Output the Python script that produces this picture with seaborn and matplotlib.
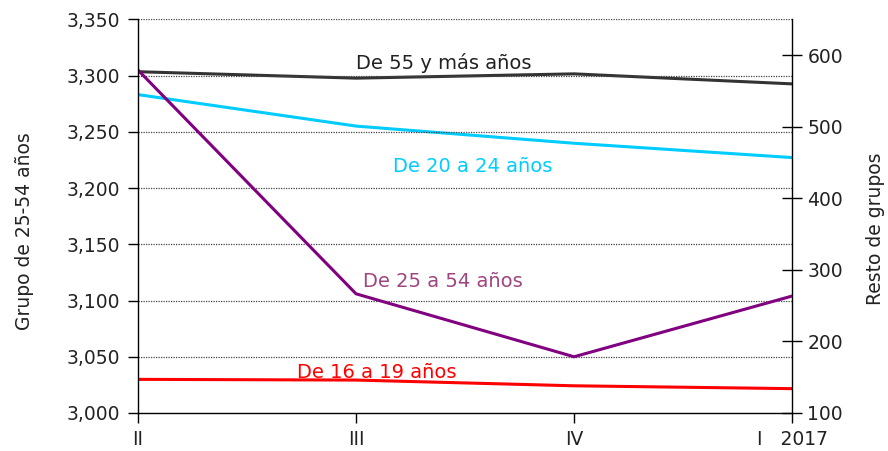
import matplotlib
matplotlib.use("Agg")
import matplotlib.pyplot as plt
import seaborn as sns
import pandas as pd

sns.set_theme(style="white")
plt.rcParams['font.family'] = ['DejaVu Sans']

categories = ["II", "III", "IV", "I   2017"]
grupo_25_54 = [3305, 3106, 3050, 3104]
de_55_mas = [577, 568, 574, 560]
de_20_24 = [545, 501, 477, 457]
de_16_19 = [147, 146, 138, 134]

df_left = pd.DataFrame({"x": range(len(categories)), "v": grupo_25_54})
df_right = pd.DataFrame({"x": list(range(len(categories))) * 3,
                         "v": de_55_mas + de_20_24 + de_16_19,
                         "s": ["55"] * 4 + ["20"] * 4 + ["16"] * 4})

fig = plt.figure(figsize=(8.88, 4.51), dpi=100)
ax = fig.add_axes([0.1554, 0.0843, 0.7366, 0.8725])
ax2 = ax.twinx()

ax.set_ylim(3000, 3350)
ax2.set_ylim(100, 650)
ax.set_xlim(0, 3)

ax.set_yticks(range(3000, 3351, 50))
ax.set_yticklabels([f"{v:,}" for v in range(3000, 3351, 50)])
ax2.set_yticks(range(100, 601, 100))
ax.set_xticks(range(len(categories)))
ax.set_xticklabels(categories)

for y in range(3050, 3351, 50):
    ax.axhline(y, color="#444444", lw=0.9, ls=(0, (1, 1)), zorder=0)

sns.lineplot(data=df_right, x="x", y="v", hue="s", ax=ax2, legend=False,
             palette={"55": "#333333", "20": "#00CCFF", "16": "#FF0000"}, lw=2.2)
sns.lineplot(data=df_left, x="x", y="v", ax=ax, color="#800080", lw=2.2)
ax.set_zorder(ax2.get_zorder() + 1)
ax.patch.set_visible(False)

for a in (ax, ax2):
    a.set_xlabel("")
    a.spines["top"].set_visible(False)
    for s in a.spines.values():
        s.set_color("black")
        s.set_linewidth(1.0)

ax.spines["right"].set_visible(False)
ax2.spines["left"].set_visible(False)
ax2.spines["bottom"].set_visible(False)

ax.tick_params(axis="y", direction="out", length=7, width=1, color="black", labelsize=13.5, labelcolor="#222222", pad=6, left=True)
ax.tick_params(axis="x", direction="out", length=7, width=1, color="black", labelsize=13.5, labelcolor="#222222", pad=5, bottom=True)
ax2.tick_params(axis="y", direction="inout", length=14, width=1, color="black", labelsize=13.5, labelcolor="#222222", pad=4, right=True)

ax.set_ylabel("Grupo de 25-54 años", fontsize=13.5, color="#222222")
ax2.set_ylabel("Resto de grupos", fontsize=13.5, color="#222222")
ax.yaxis.label.set_verticalalignment("center")
ax2.yaxis.label.set_verticalalignment("center")
ax.yaxis.set_label_coords(-0.173, 0.4625)
ax2.yaxis.set_label_coords(1.127, 0.4676)

ax2.text(1.0, 575, "De 55 y más años", fontsize=14, color="#222222", ha="left", va="bottom")
ax2.text(1.17, 445, "De 20 a 24 años", fontsize=14, color="#00CCFF", ha="left", va="center")
ax.text(1.03, 3117, "De 25 a 54 años", fontsize=14, color="#A0457F", ha="left", va="center")
ax2.text(0.73, 157, "De 16 a 19 años", fontsize=14, color="#FF0000", ha="left", va="center")

fig.savefig("out.png", dpi=100)
